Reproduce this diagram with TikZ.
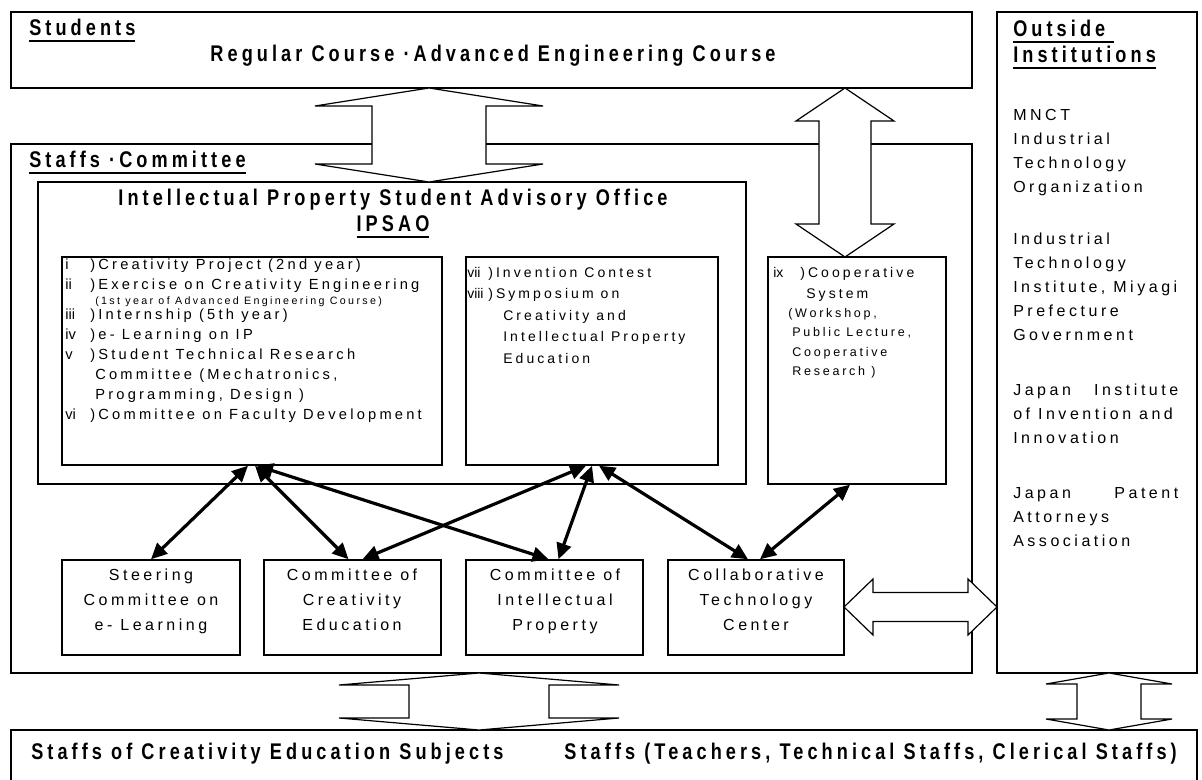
\documentclass[tikz,border=0pt]{standalone}
\usepackage{fontspec}
\setmainfont{Liberation Sans}
\newfontfamily\plainfont{Liberation Sans}
\newfontfamily\txtfont[LetterSpace=22]{Liberation Sans}
\newfontfamily\hdfont[LetterSpace=18,FakeStretch=0.8]{Liberation Sans}
\usepackage{tikz}
\usetikzlibrary{arrows.meta}
\usetikzlibrary{calc}
\usetikzlibrary{fit}

\newsavebox\ulsave
\newcommand{\ulbox}[1]{\sbox\ulsave{#1}\rlap{\rule[-4.8pt]{\wd\ulsave}{1.5pt}}\usebox\ulsave}
\newcommand{\numA}[1]{\makebox[18.75pt][l]{\plainfont #1}}
\newcommand{\numB}[1]{\makebox[15.75pt][l]{\plainfont #1}}
\newcommand{\jline}[1]{\makebox[123.75pt][s]{#1}}
% hollow double arrows: tip, tip, half shaft, half head, head length
\newcommand{\vblock}[5]{\draw[hollow] (#1) -- ++(#4,#5) -- ++({#3-#4},0) -- ($(#2)+(#3,-#5)$) -- ++({#4-#3},0) -- (#2)
    -- ++(-#4,-#5) -- ++({#4-#3},0) -- ($(#1)+(-#3,#5)$) -- ++({#3-#4},0) -- cycle;}
\newcommand{\hblock}[5]{\draw[hollow] (#1) -- ++(#5,-#4) -- ++(0,{#4-#3}) -- ($(#2)+(-#5,-#3)$) -- ++(0,{#3-#4}) -- (#2)
    -- ++(-#5,#4) -- ++(0,{#3-#4}) -- ($(#1)+(#5,#3)$) -- ++(0,{#4-#3}) -- cycle;}

\tikzset{
  box/.style={draw, line width=1.1pt, inner sep=0pt},
  hollow/.style={draw, fill=white, line width=0.9pt, line join=miter},
  link/.style={line width=2.4pt, {Triangle[length=12pt,width=11pt]}-{Triangle[length=12pt,width=11pt]}},
  hd/.style={font=\hdfont\bfseries\fontsize{17}{20}\selectfont, inner sep=0pt},
  txt/.style={font=\txtfont\fontsize{11}{15}\selectfont, inner sep=0pt, align=left},
  big/.style={font=\txtfont\fontsize{12}{18}\selectfont, inner sep=0pt},
}

\begin{document}
\begin{tikzpicture}[x=0.75pt,y=0.75pt,yscale=-1,xscale=1]
        \path[use as bounding box, fill=white] (0,0) rectangle (1202,780);

        % Boxes
        \node[box, fit={(11,12) (972,88)}] (stud) {};
        \node[box, fit={(997,12) (1197,673)}] (outs) {};
        \node[box, fit={(11,144) (972,673)}] (staff) {};
        \node[box, fit={(38,182) (746,484)}] (ipsao) {};
        \node[box, fit={(62,257) (442,465)}] (listA) {};
        \node[box, fit={(466,257) (718,465)}] (listB) {};
        \node[box, fit={(768,257) (946,484)}] (coop) {};
        \node[box, fit={(62,560) (240,655)}] (steer) {};
        \node[box, fit={(264,560) (441,655)}] (crea) {};
        \node[box, fit={(466,560) (643,655)}] (ipc) {};
        \node[box, fit={(668,560) (844,655)}] (collab) {};
        \node[box, fit={(11,730) (1197,800)}] (subj) {};

        % Hollow arrows
        \coordinate (up1) at (429,88);   \coordinate (dn1) at (429,182);
        \coordinate (up2) at (845,88);   \coordinate (dn2) at (845,257);
        \coordinate (lf3) at (844,607);  \coordinate (rt3) at (997,607);
        \coordinate (up4) at (479,673);  \coordinate (dn4) at (479,730);
        \coordinate (up5) at (1109,673); \coordinate (dn5) at (1109,730);
        \vblock{up1}{dn1}{57}{114}{18}
        \vblock{up2}{dn2}{26}{49}{33}
        \hblock{lf3}{rt3}{14.5}{28}{29}
        \vblock{up4}{dn4}{70}{140}{12}
        \vblock{up5}{dn5}{32}{63}{11}

        % Links
        \draw[link] ($(listA.south)+(-4,0)$) -- (steer.north);
        \draw[link] ($(listA.south)+(3,0)$) -- ($(crea.north)+(-4,0)$);
        \draw[link] ($(listA.south)+(5,0)$) -- ($(ipc.north)+(-6,0)$);
        \draw[link] ($(listB.south)+(-6,0)$) -- ($(crea.north)+(10,0)$);
        \draw[link] (listB.south) -- ($(ipc.north)+(4,0)$);
        \draw[link] ($(listB.south)+(7,0)$) -- ($(collab.north)+(-8,0)$);
        \draw[link] ($(coop.south)+(-7,0)$) -- ($(collab.north)+(4,0)$);

        % Text Node
        \node[hd, anchor=base west] (studT) at (29,36) {\ulbox{Students}};
        \node[hd, anchor=base] (courseT) at (493,62) {Regular Course ·Advanced Engineering Course};
        \node[hd, anchor=base west] (staffT) at (29,168) {\ulbox{Staffs ·Committee}};
        \node[hd, anchor=base] (ipsaoT) at (393,206) {Intellectual Property Student Advisory Office};
        \node[hd, anchor=base] (ipsaoS) at (393,232) {\ulbox{IPSAO}};
        \node[hd, anchor=base west] (outT) at (1013,37) {\ulbox{Outside }};
        \node[hd, anchor=base west] (outS) at (1013,63) {\ulbox{Institutions}};

        % Text Node
        \node[txt, anchor=north west] (itemsA) at (65,259) {\numA{i})Creativity Project (2nd year)\\\numA{ii})Exercise on Creativity Engineering};
        \node[txt, font=\txtfont\fontsize{8}{10}\selectfont, anchor=north west] (itemsAs) at (95,297) {(1st year of Advanced Engineering Course)};
        \node[txt, anchor=north west] (itemsA3) at (65,309) {\numA{iii})Internship (5th year)\\\numA{iv})e- Learning on IP\\\numA{v})Student Technical Research\\\hspace*{22.5pt}Committee (Mechatronics,\\\hspace*{22.5pt}Programming, Design )\\\numA{vi})Committee on Faculty Development};
        \node[txt, font=\txtfont\fontsize{10.5}{16.1}\selectfont, anchor=north west] (itemsB) at (467,267) {\numB{vii})Invention Contest\\\numB{viii})Symposium on\\\hspace*{27pt}Creativity and\\\hspace*{27pt}Intellectual Property\\\hspace*{27pt}Education};
        \node[txt, font=\txtfont\fontsize{10.5}{15.75}\selectfont, anchor=north west] (itemsC) at (773,267) {\makebox[20.25pt][l]{\plainfont ix})Cooperative\\\hspace*{24.75pt}System};
        \node[txt, font=\txtfont\fontsize{9.4}{14.5}\selectfont, anchor=north west] (itemsCs) at (788,308) {(Workshop,\\\hspace*{3pt}Public Lecture,\\\hspace*{3pt}Cooperative\\\hspace*{3pt}Research )};

        % Text Node
        \node[big, align=left, anchor=north west] (orgA) at (1013,109) {MNCT\\Industrial\\Technology\\Organization};
        \node[big, align=left, anchor=north west] (orgB) at (1013,233) {Industrial\\Technology\\Institute, Miyagi\\Prefecture\\Government};
        \node[big, align=left, anchor=north west] (orgC) at (1013,384) {\jline{Japan\hfill Institute}\\of Invention and\\Innovation};
        \node[big, align=left, anchor=north west] (orgD) at (1013,487) {\jline{Japan\hfill Patent}\\Attorneys\\Association};

        % Text Node
        \node[big, font=\txtfont\fontsize{12}{18.75}\selectfont, align=center, anchor=north] (steerT) at (151,569) {Steering\\Committee on\\e- Learning};
        \node[big, font=\txtfont\fontsize{12}{18.75}\selectfont, align=center, anchor=north] (creaT) at (352,569) {Committee of\\Creativity\\Education};
        \node[big, font=\txtfont\fontsize{12}{18.75}\selectfont, align=center, anchor=north] (ipcT) at (555,569) {Committee of\\Intellectual\\Property};
        \node[big, font=\txtfont\fontsize{12}{18.75}\selectfont, align=center, anchor=north] (collabT) at (756,569) {Collaborative\\Technology\\Center};

        % Text Node
        \node[hd, anchor=base west] (subjA) at (31,759) {Staffs of Creativity Education Subjects};
        \node[hd, anchor=base east] (subjB) at (1177,759) {Staffs (Teachers, Technical Staffs, Clerical Staffs)};
\end{tikzpicture}
\end{document}
